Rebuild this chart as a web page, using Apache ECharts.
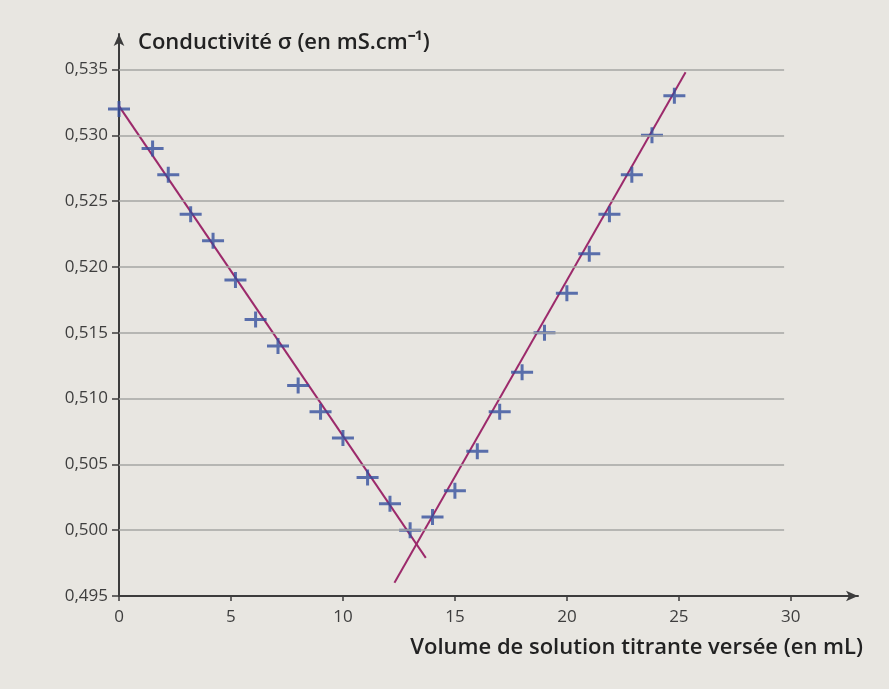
<!DOCTYPE html>
<html>
<head>
<meta charset="utf-8">
<script src="https://cdn.jsdelivr.net/npm/echarts@6/dist/echarts.min.js"></script>
<style>
  html, body { margin: 0; padding: 0; background: #e8e6e1; }
  #chart { width: 889px; height: 689px; }
</style>
</head>
<body>
<div id="chart"></div>
<script>
// mesures : volume versé (mL) et conductivité (mS.cm-1)
var volume = [0, 1.5, 2.2, 3.2, 4.2, 5.2, 6.1, 7.1, 8, 9, 10, 11.1, 12.1, 13,
  14, 15, 16, 17, 18, 19, 20, 21, 21.9, 22.9, 23.8, 24.8];
var conductivity = [0.532, 0.529, 0.527, 0.524, 0.522, 0.519, 0.516, 0.514, 0.511, 0.509, 0.507, 0.504, 0.502, 0.500,
  0.501, 0.503, 0.506, 0.509, 0.512, 0.515, 0.518, 0.521, 0.524, 0.527, 0.530, 0.533];
// droites tracées à la main (deux extrémités chacune)
var leftFit = [[-0.35, 0.5331], [13.7, 0.4979]];
var rightFit = [[12.3, 0.4960], [25.3, 0.5348]];
// graduations
var yTicks = [0.500, 0.505, 0.510, 0.515, 0.520, 0.525, 0.530, 0.535];
var gridEnd = 29.7;

var lineColor = '#9c2a6b';
var crossColor = '#34509e';
var textColor = '#3e3e3e';

var myChart = echarts.init(document.getElementById('chart'));

var points = [];
for (var i = 0; i < volume.length; i++) {
  points.push([volume[i], conductivity[i]]);
}
var gridLines = yTicks.map(function (v) {
  return [{ coord: [0, v] }, { coord: [gridEnd, v] }];
});

var fmt = function (v) {
  return v.toFixed(3).replace('.', ',');
};

option = {
  backgroundColor: '#e8e6e1',
  animation: false,
  grid: {
    left: 119,
    right: 31,
    top: 34,
    bottom: 93
  },
  xAxis: {
    type: 'value',
    min: 0,
    max: 33,
    interval: 5,
    name: 'Volume de solution titrante versée (en mL)',
    nameLocation: 'end',
    nameGap: 5,
    nameTextStyle: {
      align: 'right',
      verticalAlign: 'top',
      padding: [41, 0, 0, 0],
      fontSize: 22,
      fontFamily: 'Open Sans',
      fontWeight: 600,
      color: '#222'
    },
    axisLine: {
      lineStyle: { color: '#3c3c3c', width: 2 },
      symbol: ['none', 'arrow'],
      symbolSize: [8, 12]
    },
    axisTick: { lineStyle: { color: '#3c3c3c', width: 1.5 }, length: 5 },
    axisLabel: {
      color: textColor,
      fontSize: 17,
      fontFamily: 'Open Sans',
      margin: 13,
      showMaxLabel: false
    },
    splitLine: { show: false }
  },
  yAxis: {
    type: 'value',
    min: 0.495,
    max: 0.5377,
    interval: 0.005,
    name: 'Conductivité σ (en mS.cm⁻¹)',
    nameLocation: 'end',
    nameGap: -9,
    nameTextStyle: {
      align: 'left',
      verticalAlign: 'middle',
      padding: [0, 0, 0, 19],
      fontSize: 22,
      fontFamily: 'Open Sans',
      fontWeight: 600,
      color: '#222'
    },
    axisLine: {
      show: true,
      lineStyle: { color: '#3c3c3c', width: 2 },
      symbol: ['none', 'arrow'],
      symbolSize: [8, 12]
    },
    axisTick: { show: true, lineStyle: { color: '#3c3c3c', width: 1.5 }, length: 7 },
    axisLabel: {
      color: textColor,
      fontSize: 17,
      fontFamily: 'Open Sans',
      margin: 11,
      showMaxLabel: false,
      formatter: fmt
    },
    splitLine: { show: false }
  },
  series: [
    {
      type: 'line',
      data: leftFit,
      symbol: 'none',
      clip: false,
      lineStyle: { color: lineColor, width: 2 },
      markLine: {
        silent: true,
        symbol: 'none',
        label: { show: false },
        lineStyle: { color: '#a6a6a3', width: 1.5, type: 'solid' },
        data: gridLines
      },
      z: 3
    },
    {
      type: 'line',
      data: rightFit,
      symbol: 'none',
      clip: false,
      lineStyle: { color: lineColor, width: 2 },
      z: 3
    },
    {
      type: 'scatter',
      data: points,
      symbol: 'path://M9.5,0h3v6.5h9.5v3h-9.5v6.5h-3v-6.5h-9.5v-3h9.5z',
      symbolSize: [22, 16],
      itemStyle: { color: crossColor },
      z: 4
    }
  ]
};
myChart.setOption(option);
</script>
</body>
</html>
